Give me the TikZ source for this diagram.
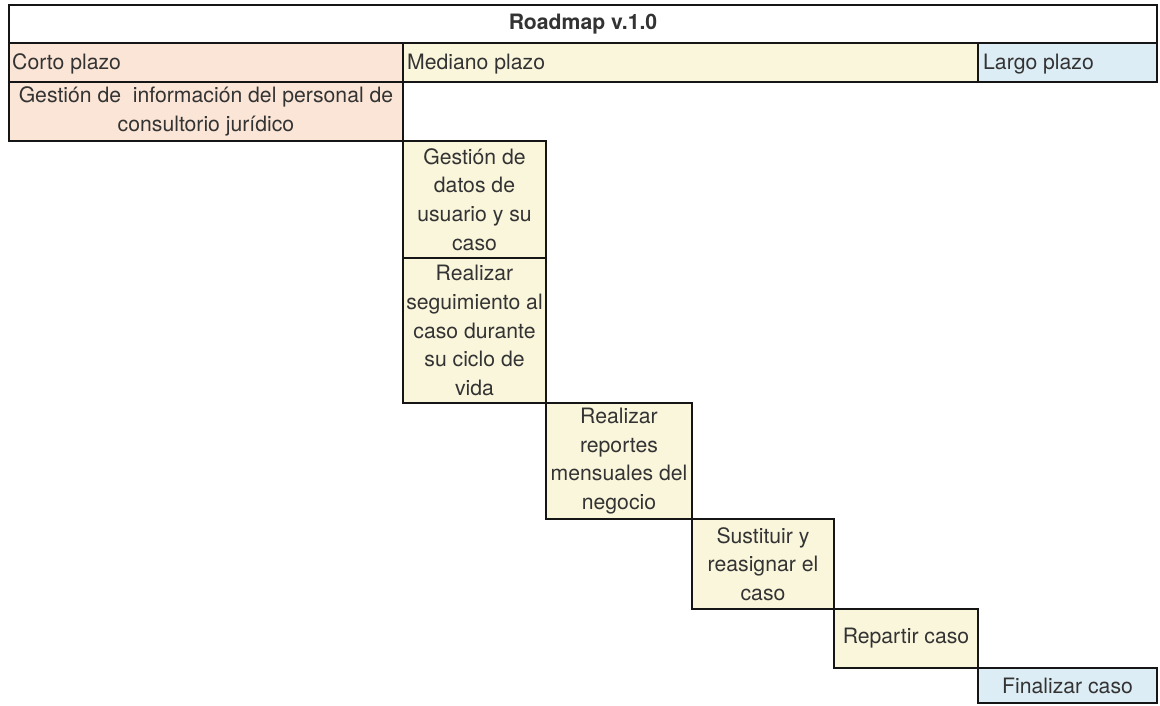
\documentclass[tikz,border=0pt]{standalone}
\usepackage{fontspec}
\setmainfont{TeX Gyre Heros}
\begin{document}
\definecolor{peach}{HTML}{FBE5D6}
\definecolor{pale}{HTML}{FAF6DC}
\definecolor{sky}{HTML}{DDEDF5}
\definecolor{ink}{HTML}{333333}
\definecolor{rule}{HTML}{151515}
\begin{tikzpicture}[x=1pt,y=-1pt,
  cell/.style={draw=rule, line width=2.9pt, inner sep=0pt, outer sep=0pt,
    anchor=north west, text=ink, align=center,
    font=\fontsize{21.2}{28.6}\selectfont},
  lefttext/.style={anchor=west, inner sep=0pt, text=ink,
    font=\fontsize{21.2}{28.6}\selectfont}]
\useasboundingbox (0,0) rectangle (1160,706);
\fill[white] (0,0) rectangle (1160,706);
% cell(x1,y1,x2,y2): minimum width/height give the cell size
\newcommand\cellbox[7]{%
  \node[cell, fill=#6, minimum width=#4-#2, minimum height=#5-#3] (#1) at (#2,#3) {#7};}
% header rows
\cellbox{title}{9}{5}{1157}{43}{white}{\textbf{Roadmap v.1.0}}
\cellbox{corto}{9}{43}{403}{82}{peach}{}
\cellbox{mediano}{403}{43}{978}{82}{pale}{}
\cellbox{largo}{978}{43}{1157}{82}{sky}{}
\node[lefttext] (tcorto) at (12,64) {Corto plazo};
\node[lefttext] (tmediano) at (407,64) {Mediano plazo};
\node[lefttext] (tlargo) at (983,64) {Largo plazo};
% staircase of tasks
\cellbox{info}{9}{82}{403}{141}{peach}{Gestión de\ \ información del personal de\\consultorio jurídico}
\cellbox{datos}{403}{141}{546}{258}{pale}{Gestión de\\datos de\\usuario y su\\caso}
\cellbox{seguimiento}{403}{258}{546}{403}{pale}{Realizar\\seguimiento al\\caso durante\\su ciclo de\\vida}
\cellbox{reportes}{546}{403}{692}{519}{pale}{Realizar\\reportes\\mensuales del\\negocio}
\cellbox{sustituir}{692}{519}{834}{609}{pale}{Sustituir y\\reasignar el\\caso}
\cellbox{repartir}{834}{609}{978}{668}{pale}{Repartir caso}
\cellbox{finalizar}{978}{668}{1157}{703}{sky}{Finalizar caso}
\end{tikzpicture}
\end{document}
